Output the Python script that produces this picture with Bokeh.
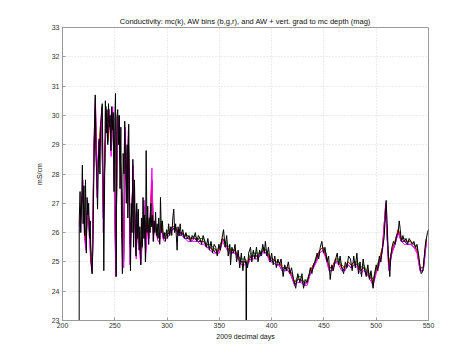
from bokeh.plotting import figure
from bokeh.embed import file_html
from bokeh.resources import INLINE
from bokeh.models import FixedTicker

# ---------------- data ----------------
# mc (black) record: 2009 decimal days and conductivity (mS/cm)
k_day = [
    215.6, 216.0, 216.8, 217.5, 218.3, 219.0, 219.7, 220.5, 221.2, 222.0,
    222.8, 223.5, 224.3, 225.0, 225.8, 226.5, 227.3, 228.3, 229.0, 229.8,
    230.5, 231.3, 232.0, 232.8, 233.5, 234.3, 235.0, 235.8, 236.5, 237.3,
    238.0, 238.8, 239.5, 240.3, 241.0, 241.8, 242.5, 243.3, 244.0, 244.8,
    245.5, 246.3, 247.0, 247.8, 248.5, 249.3, 250.0, 250.7, 251.3, 252.0,
    252.8, 253.5, 254.3, 255.0, 255.8, 256.5, 257.3, 258.0, 258.8, 259.5,
    260.3, 261.0, 261.8, 262.5, 263.3, 264.0, 265.0, 265.8, 266.5, 267.3,
    268.0, 268.8, 269.5, 270.3, 271.0, 271.8, 272.5, 273.3, 274.0, 274.8,
    275.5, 276.3, 277.0, 277.8, 278.5, 279.3, 280.0, 280.8, 281.5, 282.3,
    283.0, 283.8, 284.5, 285.3, 286.0, 286.8, 287.5, 288.3, 289.0, 289.8,
    290.5, 291.3, 292.0, 293.0, 293.7, 294.5, 295.5, 296.5, 297.5, 298.5,
    299.5, 300.5, 301.5, 302.5, 303.5, 304.5, 305.5, 306.4, 307.3, 308.2,
    309.6, 310.5, 311.5, 312.5, 313.5, 315.0, 316.5, 318.0, 319.5, 321.0,
    322.5, 324.0, 325.5, 327.0, 328.5, 330.0, 331.5, 333.0, 334.5, 336.0,
    337.5, 339.0, 340.5, 342.0, 343.5, 345.0, 346.5, 348.0, 349.5, 351.0,
    352.5, 354.0, 355.5, 357.0, 358.5, 360.0, 360.7, 362.0, 363.5, 365.0,
    366.5, 368.0, 369.5, 371.0, 372.5, 374.0, 375.5, 375.7, 376.0, 377.0,
    378.0, 379.8, 381.0, 382.5, 384.0, 385.5, 387.0, 388.5, 390.0, 391.5,
    393.0, 394.0, 395.5, 397.0, 398.5, 400.0, 401.5, 403.0, 404.5, 406.0,
    407.5, 409.0, 411.0, 412.5, 414.0, 416.0, 417.5, 419.0, 421.0, 423.0,
    425.0, 427.0, 429.0, 430.5, 432.0, 434.0, 436.0, 437.0, 438.5, 440.0,
    441.5, 443.5, 445.0, 446.5, 448.0, 449.5, 451.0, 453.0, 454.5, 456.0,
    457.5, 459.0, 460.5, 462.7, 464.0, 465.5, 467.0, 468.8, 470.5, 472.0,
    473.5, 475.4, 477.0, 478.5, 480.0, 481.5, 483.0, 484.5, 486.0, 487.5,
    489.0, 490.5, 492.0, 493.5, 495.0, 497.0, 498.5, 500.0, 501.5, 503.0,
    504.5, 506.0, 507.5, 508.5, 509.5, 510.5, 511.5, 513.0, 514.0, 515.0,
    516.5, 518.0, 519.5, 521.0, 522.0, 523.0, 524.0, 525.5, 527.0, 528.5,
    530.0, 531.5, 533.0, 534.5, 536.0, 537.5, 539.0, 540.7, 542.0, 543.0,
    544.0, 545.0, 546.0, 547.0, 548.0, 549.0, 550.0,
]
k_val = [
    0.0, 26.4, 27.4, 26.0, 27.0, 28.3, 26.3, 27.6, 25.9, 27.8,
    25.3, 27.2, 26.6, 27.0, 25.8, 26.4, 25.0, 24.6, 25.4, 27.5,
    29.5, 30.7, 28.6, 27.9, 26.8, 28.4, 29.2, 28.0, 29.6, 30.1,
    30.4, 28.0, 24.7, 27.8, 30.5, 29.4, 30.2, 29.0, 30.4, 29.6,
    30.0, 28.8, 30.3, 29.5, 30.1, 27.4, 29.8, 30.75, 24.5, 29.9,
    30.2, 29.0, 30.0, 27.5, 29.6, 26.0, 24.6, 28.7, 28.0, 29.8,
    28.5, 27.0, 29.0, 26.5, 29.7, 27.6, 24.7, 27.0, 26.0, 28.5,
    25.5, 27.8, 26.3, 25.2, 27.0, 25.8, 26.8, 25.4, 26.2, 24.9,
    26.5, 25.5, 27.2, 25.8, 26.6, 25.0, 28.8, 26.0, 26.9, 25.6,
    26.5, 26.0, 27.0, 26.2, 26.6, 25.7, 26.4, 26.0, 26.7, 25.9,
    26.3, 25.8, 26.5, 25.6, 27.2, 26.0, 26.4, 25.8, 26.0, 25.7,
    26.1, 25.8, 26.3, 25.9, 26.2, 25.9, 26.5, 26.8, 26.0, 26.3,
    25.4, 26.2, 25.9, 26.3, 25.9, 26.1, 25.8, 26.0, 25.8, 25.9,
    25.7, 25.9, 25.8, 26.0, 25.7, 25.9, 25.8, 25.6, 25.9, 25.7,
    25.5, 25.8, 25.4, 25.7, 25.3, 25.6, 25.5, 25.2, 25.6, 25.4,
    25.8, 26.1, 25.5, 25.9, 25.2, 25.6, 24.9, 25.5, 25.3, 25.6,
    25.0, 25.4, 24.8, 25.3, 24.7, 25.2, 24.9, 0.0, 25.0, 24.8,
    25.3, 25.5, 25.0, 25.4, 25.1, 25.5, 25.0, 25.4, 25.2, 25.6,
    25.3, 25.7, 25.2, 25.5, 25.0, 25.3, 24.9, 25.2, 24.8, 25.1,
    24.9, 25.1, 24.5, 24.9, 24.7, 25.0, 24.6, 24.8, 24.4, 24.1,
    24.6, 24.3, 24.6, 24.1, 24.4, 24.3, 24.6, 24.8, 24.6, 24.9,
    25.0, 25.3, 25.1, 25.5, 25.7, 25.3, 25.5, 25.0, 25.2, 24.4,
    24.9, 24.7, 25.0, 25.3, 24.9, 25.2, 24.8, 24.6, 25.0, 24.8,
    25.2, 25.1, 24.7, 25.2, 24.8, 25.3, 24.6, 25.0, 24.5, 25.1,
    24.7, 24.5, 24.9, 24.4, 24.7, 24.1, 24.6, 24.9, 24.7, 25.2,
    25.0, 25.5, 25.8, 26.4, 27.1, 26.3, 25.3, 24.5, 25.2, 25.5,
    25.7, 25.6, 25.9, 26.0, 26.4, 26.1, 25.7, 25.9, 25.7, 25.8,
    25.6, 25.8, 25.7, 25.6, 25.7, 25.5, 25.6, 25.2, 24.8, 24.6,
    24.65, 24.8, 25.2, 25.6, 25.8, 26.0, 26.1,
]

# AW bins (b, g, r) and AW + vertical gradient (magenta)
aw_day_early = [
    216.5, 218, 219.5, 221, 222.5, 224, 225.5, 227, 228.5, 230,
    231.5, 233, 234.5, 236, 237.5, 239, 240.5, 242, 243.5, 245,
    246.5, 248, 249.5, 251, 252.5, 254, 255.5, 257, 258.5, 260,
    261.5, 263, 264.5, 266, 267.5, 269, 270.5, 272, 273.5, 275,
    276.5, 278, 279.5, 281, 282.5, 284, 285.5, 287, 288.5, 290,
    291.5, 293, 294.5, 296, 297.5, 299,
]
aw_day_late = [
    302, 305, 308, 311, 314, 317, 320, 323, 326, 329,
    332, 335, 338, 341, 344, 347, 350, 353, 356, 359,
    362, 365, 368, 371, 374, 377, 380, 383, 386, 389,
    392, 395, 398, 401, 404, 407, 410, 413, 416, 419,
    422, 425, 428, 431, 434, 437, 440, 443, 446, 449,
    452, 455, 458, 461, 464, 467, 470, 473, 476, 479,
    482, 485, 488, 491, 494, 497, 500, 503, 506, 509,
    512, 515, 518, 521, 524, 527, 530, 533, 536, 539,
    542, 545, 548,
]
aw_b_early = [
    26.2, 26.8, 27.6, 26.0, 25.6, 26.9, 26.2, 25.2, 24.7, 28.5,
    30.3, 27.5, 28.8, 29.3, 30.0, 26.5, 28.6, 30.1, 29.3, 29.9,
    28.9, 30.0, 27.8, 24.7, 29.7, 29.8, 28.2, 27.0, 25.0, 29.3,
    27.5, 29.2, 25.6, 26.4, 28.0, 26.6, 25.3, 26.5, 25.6, 25.1,
    26.0, 26.9, 25.3, 26.4, 25.8, 26.6, 27.8, 25.9, 26.3, 26.0,
    25.9, 25.8, 26.3, 25.9, 25.8, 25.9,
]
aw_b_late = [
    26.0, 26.1, 26.2, 25.9, 26.0, 25.8, 25.8, 25.7, 25.8, 25.7,
    25.7, 25.7, 25.5, 25.5, 25.4, 25.3, 25.4, 25.8, 25.6, 25.4,
    25.3, 25.4, 25.1, 25.0, 25.0, 24.9, 25.2, 25.2, 25.2, 25.2,
    25.4, 25.3, 25.1, 25.0, 24.9, 24.9, 24.7, 24.8, 24.7, 24.5,
    24.2, 24.4, 24.4, 24.2, 24.3, 24.6, 24.8, 25.1, 25.3, 25.4,
    25.2, 24.7, 24.7, 25.0, 25.0, 24.8, 24.7, 24.9, 24.8, 24.9,
    24.9, 24.7, 24.8, 24.6, 24.5, 24.3, 24.7, 25.0, 25.4, 26.8,
    24.8, 25.3, 25.6, 26.0, 25.7, 25.7, 25.6, 25.6, 25.5, 25.4,
    24.7, 24.7, 25.7,
]
aw_g_early = [
    26.4, 27.0, 27.3, 26.3, 25.9, 26.7, 26.5, 25.5, 24.9, 28.9,
    30.1, 27.9, 28.5, 29.6, 29.8, 26.9, 28.3, 30.3, 29.1, 30.0,
    29.2, 29.8, 28.2, 25.1, 29.5, 30.0, 28.6, 26.7, 25.3, 29.1,
    27.8, 29.0, 25.9, 26.7, 27.7, 26.9, 25.6, 26.3, 25.9, 25.4,
    26.2, 26.7, 25.6, 26.6, 26.0, 26.4, 27.5, 26.1, 26.2, 26.1,
    26.0, 25.9, 26.4, 26.0, 25.9, 26.0,
]
aw_g_late = [
    26.1, 26.2, 26.2, 26.0, 26.0, 25.9, 25.9, 25.8, 25.9, 25.8,
    25.8, 25.8, 25.6, 25.6, 25.5, 25.4, 25.5, 25.8, 25.7, 25.5,
    25.4, 25.4, 25.2, 25.1, 25.1, 25.0, 25.3, 25.3, 25.3, 25.3,
    25.5, 25.4, 25.2, 25.1, 25.0, 25.0, 24.8, 24.8, 24.8, 24.6,
    24.3, 24.5, 24.5, 24.3, 24.4, 24.7, 24.9, 25.2, 25.4, 25.5,
    25.3, 24.8, 24.8, 25.1, 25.1, 24.9, 24.8, 25.0, 24.9, 25.0,
    25.0, 24.8, 24.9, 24.7, 24.6, 24.4, 24.8, 25.1, 25.5, 26.9,
    24.9, 25.4, 25.7, 26.1, 25.8, 25.8, 25.7, 25.7, 25.6, 25.5,
    24.8, 24.8, 25.8,
]
aw_r_early = [
    26.3, 26.9, 27.5, 26.2, 25.7, 26.8, 26.3, 25.3, 24.8, 28.7,
    30.4, 27.7, 28.7, 29.4, 30.1, 26.7, 28.5, 30.2, 29.2, 30.1,
    29.0, 30.1, 28.0, 24.9, 29.6, 29.9, 28.4, 26.9, 25.1, 29.2,
    27.6, 29.3, 25.7, 26.5, 27.9, 26.7, 25.4, 26.4, 25.7, 25.2,
    26.1, 26.8, 25.4, 26.5, 25.9, 26.5, 27.7, 26.0, 26.3, 26.0,
    25.9, 25.8, 26.3, 25.9, 25.8, 25.9,
]
aw_r_late = [
    26.0, 26.2, 26.2, 26.0, 26.0, 25.9, 25.8, 25.8, 25.8, 25.8,
    25.7, 25.7, 25.6, 25.5, 25.4, 25.4, 25.4, 25.8, 25.6, 25.4,
    25.4, 25.4, 25.2, 25.0, 25.0, 25.0, 25.2, 25.2, 25.2, 25.3,
    25.4, 25.4, 25.1, 25.1, 25.0, 25.0, 24.8, 24.8, 24.8, 24.6,
    24.3, 24.4, 24.4, 24.3, 24.3, 24.7, 24.9, 25.1, 25.4, 25.5,
    25.2, 24.8, 24.8, 25.1, 25.0, 24.8, 24.8, 25.0, 24.9, 25.0,
    24.9, 24.7, 24.8, 24.7, 24.5, 24.3, 24.7, 25.0, 25.5, 26.9,
    24.9, 25.4, 25.7, 26.1, 25.8, 25.7, 25.7, 25.7, 25.6, 25.4,
    24.8, 24.8, 25.8,
]
aw_m_early = [
    26.0, 26.6, 27.8, 25.8, 25.4, 27.1, 26.0, 25.0, 24.6, 29.0,
    30.6, 27.2, 29.1, 29.0, 30.3, 26.0, 28.9, 29.9, 29.6, 30.2,
    28.6, 30.3, 27.5, 24.5, 30.0, 29.5, 28.0, 27.3, 24.8, 29.6,
    27.2, 29.5, 24.9, 26.2, 28.3, 26.3, 25.1, 26.7, 25.4, 24.9,
    25.8, 27.1, 25.1, 26.2, 25.6, 26.8, 28.2, 25.7, 26.4, 25.9,
    25.7, 25.7, 26.2, 25.8, 25.7, 25.8,
]
aw_m_late = [
    25.9, 26.1, 26.1, 25.9, 25.9, 25.8, 25.7, 25.7, 25.7, 25.7,
    25.6, 25.6, 25.5, 25.4, 25.3, 25.3, 25.3, 25.7, 25.5, 25.3,
    25.3, 25.3, 25.1, 24.9, 24.9, 24.9, 25.1, 25.1, 25.1, 25.2,
    25.3, 25.3, 25.0, 25.0, 24.9, 24.9, 24.7, 24.7, 24.7, 24.5,
    24.2, 24.3, 24.3, 24.2, 24.2, 24.6, 24.8, 25.0, 25.3, 25.4,
    25.1, 24.7, 24.7, 25.0, 24.9, 24.7, 24.7, 24.9, 24.8, 24.9,
    24.8, 24.6, 24.7, 24.6, 24.4, 24.2, 24.6, 24.9, 25.4, 27.0,
    24.7, 25.3, 25.6, 26.0, 25.7, 25.6, 25.6, 25.6, 25.5, 25.3,
    24.7, 24.7, 25.7,
]

x_ticks = [200, 250, 300, 350, 400, 450, 500, 550]
y_ticks = [23, 24, 25, 26, 27, 28, 29, 30, 31, 32, 33]

title_text = "Conductivity: mc(k), AW bins (b,g,r), and AW + vert. grad to mc depth (mag)"
x_label = "2009 decimal days"
y_label = "mS/cm"

aw_day = aw_day_early + aw_day_late
aw_b = aw_b_early + aw_b_late
aw_g = aw_g_early + aw_g_late
aw_r = aw_r_early + aw_r_late
aw_m = aw_m_early + aw_m_late

# ---------------- figure ----------------
FONT = "Liberation Sans"
FRAME = "#9a9a9a"
TXT = "#333333"

p = figure(width=473, height=360, x_range=(200, 550), y_range=(23, 33),
           output_backend="svg", toolbar_location=None,
           title=title_text)
p.min_border_left = 62
p.min_border_right = 45
p.min_border_top = 27
p.min_border_bottom = 40
p.background_fill_color = "white"
p.border_fill_color = "white"
p.outline_line_color = FRAME
p.outline_line_width = 1

p.title.align = "center"
p.title.text_font = FONT
p.title.text_font_size = "7.5px"
p.title.text_font_style = "normal"
p.title.text_color = "#111111"
p.title.standoff = 4

p.xaxis.ticker = FixedTicker(ticks=x_ticks)
p.yaxis.ticker = FixedTicker(ticks=y_ticks)
for ax in (p.xaxis[0], p.yaxis[0]):
    ax.axis_line_color = FRAME
    ax.major_tick_line_color = FRAME
    ax.major_tick_in = 3
    ax.major_tick_out = 0
    ax.minor_tick_line_color = None
    ax.major_label_text_font = FONT
    ax.major_label_text_font_size = "7px"
    ax.major_label_text_color = TXT
    ax.axis_label_text_font = FONT
    ax.axis_label_text_font_size = "7px"
    ax.axis_label_text_font_style = "normal"
    ax.axis_label_text_color = "#111111"
p.xaxis.axis_label = x_label
p.yaxis.axis_label = y_label
p.xaxis.major_label_standoff = 2
p.yaxis.major_label_standoff = 3
p.xaxis.axis_label_standoff = 2
p.yaxis.axis_label_standoff = 6

p.xgrid.grid_line_color = "#d8d8d8"
p.ygrid.grid_line_color = "#d8d8d8"
p.xgrid.grid_line_dash = "1 2"
p.ygrid.grid_line_dash = "1 2"

p.line(aw_day, aw_b, line_color="#0000ff", line_width=1)
p.line(aw_day, aw_g, line_color="#00a000", line_width=1)
p.line(aw_day, aw_r, line_color="#ff0000", line_width=1)
p.line(aw_day, aw_m, line_color="#ff00ff", line_width=1)
p.line(k_day, k_val, line_color="#000000", line_width=1.0)

open("out.html", "w").write(file_html(p, INLINE))
